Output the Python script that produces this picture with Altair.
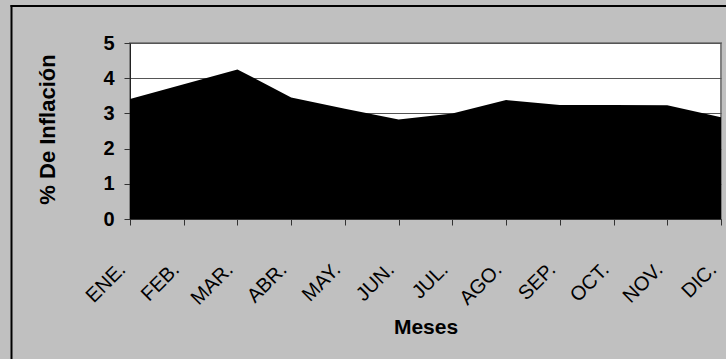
import altair as alt
import pandas as pd

meses = ["ENE.", "FEB.", "MAR.", "ABR.", "MAY.", "JUN.", "JUL.", "AGO.", "SEP.", "OCT.", "NOV.", "DIC."]
inflacion = [3.41, 3.83, 4.25, 3.45, 3.13, 2.83, 3.0, 3.38, 3.24, 3.24, 3.23, 2.89]
y_ticks = [0, 1, 2, 3, 4, 5]

df = pd.DataFrame({"mes": meses, "valor": inflacion})
FONT = "Liberation Sans"

area = alt.Chart(df).mark_area(color="black", opacity=1, interpolate="linear").encode(
    x=alt.X(
        "mes:N",
        sort=meses,
        scale=alt.Scale(type="point", padding=0),
        axis=alt.Axis(
            title="Meses",
            labelAngle=-45,
            labelAlign="right",
            labelBaseline="middle",
            labelPadding=41,
            labelOffset=-8,
            labelFont=FONT,
            labelFontSize=20,
            labelColor="black",
            labelOverlap=False,
            tickSize=6,
            tickColor="#333333",
            domainColor="#333333",
            titleFont=FONT,
            titleFontSize=21,
            titleFontWeight="bold",
            titleColor="black",
            titleBaseline="alphabetic",
            titleY=114,
            grid=False,
        ),
    ),
    y=alt.Y(
        "valor:Q",
        scale=alt.Scale(domain=[0, 5], nice=False),
        axis=alt.Axis(
            title="% De Inflación",
            values=y_ticks,
            format="d",
            labelFont=FONT,
            labelFontSize=20,
            labelFontWeight="bold",
            labelColor="black",
            labelPadding=10,
            tickSize=6,
            tickColor="#333333",
            domainColor="#222222",
            gridColor="#555555",
            gridWidth=1,
            titleFont=FONT,
            titleFontSize=22,
            titleFontWeight="bold",
            titleColor="black",
            titleAngle=-90,
            titleBaseline="alphabetic",
            titleX=-76,
            titleY=86,
        ),
    ),
)

one = pd.DataFrame({"a": [0]})
border_v = alt.Chart(one).mark_rule(color="black", strokeWidth=2).encode(
    x=alt.value(-118.5), y=alt.value(-38), y2=alt.value(400)
)
border_h = alt.Chart(one).mark_rule(color="black", strokeWidth=2).encode(
    x=alt.value(-119.5), x2=alt.value(700), y=alt.value(-37)
)

chart = (
    alt.layer(area, border_v, border_h)
    .properties(
        width=591,
        height=176,
        background="#C0C0C0",
        padding={"left": 130, "top": 43, "right": 5, "bottom": 140},
        autosize=alt.AutoSizeParams(type="none"),
    )
    .configure_view(fill="white", stroke="#808080", strokeWidth=2)
)

chart.save("out.html", embed_options={"renderer": "svg", "actions": False})
